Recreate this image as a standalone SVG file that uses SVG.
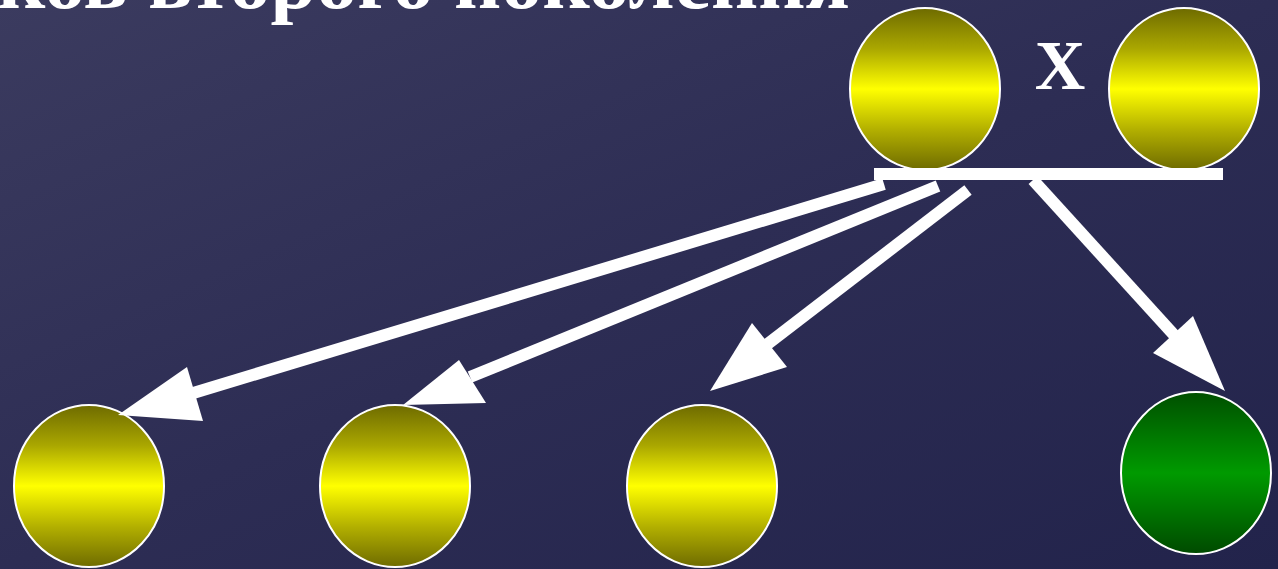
<svg xmlns="http://www.w3.org/2000/svg" width="1278" height="569" viewBox="0 0 1278 569">
<defs>
<linearGradient id="bg" x1="0" y1="0" x2="1" y2="1">
<stop offset="0" stop-color="#3b3b5f"/>
<stop offset="0.5" stop-color="#2d2d54"/>
<stop offset="1" stop-color="#22234b"/>
</linearGradient>
<linearGradient id="yel" x1="0" y1="0" x2="0" y2="1">
<stop offset="0" stop-color="#6e6b00"/>
<stop offset="0.25" stop-color="#aaa700"/>
<stop offset="0.5" stop-color="#ffff00"/>
<stop offset="0.75" stop-color="#b3b000"/>
<stop offset="1" stop-color="#6e6b00"/>
</linearGradient>
<linearGradient id="grn" x1="0" y1="0" x2="0" y2="1">
<stop offset="0" stop-color="#004f00"/>
<stop offset="0.5" stop-color="#009a00"/>
<stop offset="1" stop-color="#004a00"/>
</linearGradient>
</defs>
<style>
.y{fill:url(#yel);stroke:#ffffff;stroke-width:2}
.g{fill:url(#grn);stroke:#ffffff;stroke-width:2}
.shaft{stroke:#ffffff;stroke-width:12;fill:none}
.head{fill:#ffffff}
.t{fill:#ffffff}
</style>
<rect width="1278" height="569" fill="url(#bg)"/>
<text class="t" x="-2" y="8" font-family="'Liberation Serif', serif" font-weight="700" font-size="80" textLength="852" lengthAdjust="spacingAndGlyphs">ков второго поколения</text>
<g id="parent1"><ellipse class="y" cx="925" cy="89" rx="75" ry="81"/></g>
<g id="cross"><text class="t" x="1060" y="89" font-family="'Liberation Serif', serif" font-weight="700" font-size="70" text-anchor="middle">X</text></g>
<g id="parent2"><ellipse class="y" cx="1184" cy="89" rx="75" ry="81"/></g>
<g id="bar"><rect x="874" y="168" width="349" height="12" fill="#ffffff"/></g>
<g id="child1"><ellipse class="y" cx="89" cy="486" rx="75" ry="81"/></g>
<g id="child2"><ellipse class="y" cx="395" cy="486" rx="75" ry="81"/></g>
<g id="child3"><ellipse class="y" cx="702" cy="486" rx="75" ry="81"/></g>
<g id="child4"><ellipse class="g" cx="1196" cy="473" rx="75" ry="81"/></g>
<g id="connectors">
<line class="shaft" x1="884" y1="184" x2="190" y2="394"/>
<polygon class="head" points="118,415 187,367 203,421"/>
<line class="shaft" x1="938" y1="186" x2="470" y2="377"/>
<polygon class="head" points="403,405 459,360 486,403"/>
<line class="shaft" x1="968" y1="190" x2="765" y2="346"/>
<polygon class="head" points="710,391 752,323 787,367"/>
<line class="shaft" x1="1033" y1="180" x2="1175" y2="336"/>
<polygon class="head" points="1225,391 1193,316 1153,353"/>
</g>
</svg>
